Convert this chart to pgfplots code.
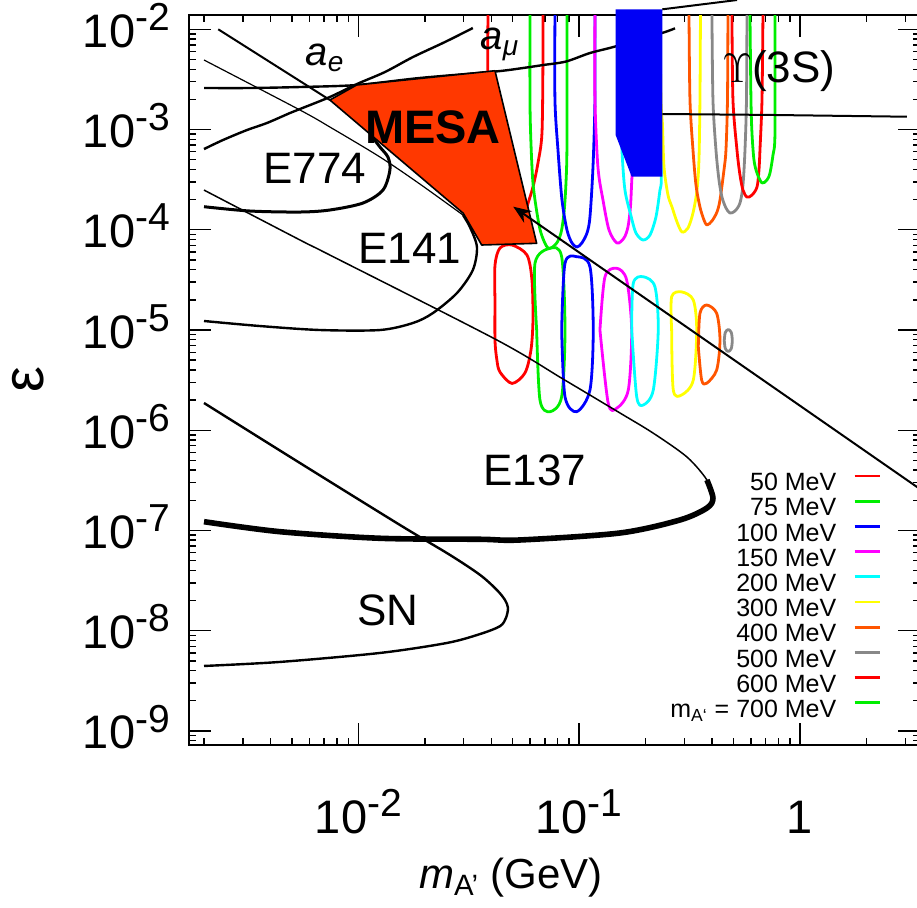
\documentclass[border=0pt]{standalone}
\usepackage{fontspec}
\setmainfont{Liberation Sans}
\usepackage{pgfplots}
\pgfplotsset{compat=1.18}
\usetikzlibrary{arrows.meta}
\definecolor{cred}{RGB}{255,0,0}
\definecolor{cgreen}{RGB}{0,238,0}
\definecolor{cblue}{RGB}{0,0,255}
\definecolor{cmag}{RGB}{255,0,255}
\definecolor{ccyan}{RGB}{0,255,255}
\definecolor{cyellow}{RGB}{255,255,0}
\definecolor{corange}{RGB}{255,85,0}
\definecolor{cgray}{RGB}{136,136,136}
\definecolor{mesa}{RGB}{255,56,0}
\definecolor{boxblue}{RGB}{0,0,245}
\newcommand{\tp}[1]{10\raisebox{0.36em}{\fontsize{19.5}{21}\selectfont -#1}}
\begin{document}
\begin{tikzpicture}
\path[use as bounding box] (0,0) rectangle (458.5pt,453.5pt);
\begin{axis}[
  at={(94.5pt,81pt)}, anchor=south west,
  scale only axis, width=365.5pt, height=365pt,
  xmode=log, ymode=log,
  xmin=1.71e-3, xmax=3.496, ymin=7.24e-10, ymax=1.389e-2,
  clip=false,
  axis line style={line width=1pt},
  tick style={black, line width=0.7pt},
  major tick length=11pt, minor tick length=3.5pt,
  xtick={0.01,0.1,1}, xticklabels={\tp{2},\tp{1},1},
  minor xtick={0.002,0.003,0.004,0.005,0.006,0.007,0.008,0.009,0.02,0.03,0.04,0.05,0.06,0.07,0.08,0.09,0.2,0.3,0.4,0.5,0.6,0.7,0.8,0.9,2,3},
  ytick={1e-9,1e-8,1e-7,1e-6,1e-5,1e-4,1e-3,1e-2},
  yticklabels={\tp{9},\tp{8},\tp{7},\tp{6},\tp{5},\tp{4},\tp{3},\tp{2}},
  minor ytick={8e-10,9e-10,2e-9,3e-9,4e-9,5e-9,6e-9,7e-9,8e-9,9e-9,2e-8,3e-8,4e-8,5e-8,6e-8,7e-8,8e-8,9e-8,2e-7,3e-7,4e-7,5e-7,6e-7,7e-7,8e-7,9e-7,2e-6,3e-6,4e-6,5e-6,6e-6,7e-6,8e-6,9e-6,2e-5,3e-5,4e-5,5e-5,6e-5,7e-5,8e-5,9e-5,2e-4,3e-4,4e-4,5e-4,6e-4,7e-4,8e-4,9e-4,2e-3,3e-3,4e-3,5e-3,6e-3,7e-3,8e-3,9e-3},
  tick label style={font=\fontsize{23.5}{26}\selectfont},
  yticklabel style={anchor=base east, yshift=-9pt, xshift=-6pt},
  xticklabel style={anchor=base, yshift=-44pt},
  xlabel={\textit{m}\textsubscript{A'} (GeV)},
  xlabel style={at={(axis description cs:0.4405,-0.197)}, anchor=base, font=\fontsize{21}{24}\selectfont},
  ylabel={ε},
  ylabel style={at={(axis description cs:-0.2195,0.5)}, anchor=center, font=\fontsize{29}{31}\selectfont},
  legend plot pos=right,
  legend image code/.code={\draw[#1, line width=1.4pt] (0pt,4.5pt) -- (12.5pt,4.5pt);},
  legend style={at={(axis description cs:0.9466,0.3735)}, anchor=north east,
    draw=none, fill=none, inner sep=0pt, outer sep=0pt,
    font=\fontsize{12.5}{14}\selectfont, cells={anchor=east},
    nodes={inner sep=0.4pt, text height=8.8pt, text depth=3pt},
    column sep=8pt},
  every axis plot/.append style={line join=round},
]
% ---------- upper contours ----------
\addplot[cred, line width=1.4pt, smooth] coordinates {(3.864e-2,1.389e-2) (3.864e-2,1.57e-3) (4.028e-2,1.98e-4) (4.613e-2,8.28e-5) (5.39e-2,8.87e-5) (5.802e-2,1.688e-4) (6.177e-2,2.67e-4) (6.508e-2,4.64e-4) (6.785e-2,9.24e-4) (6.855e-2,4.94e-3) (6.855e-2,1.389e-2)};
\addlegendentry{50 MeV}
\addplot[cgreen, line width=1.4pt, smooth] coordinates {(5.986e-2,1.389e-2) (5.986e-2,1.971e-3) (6.049e-2,7.34e-4) (6.177e-2,2.93e-4) (6.441e-2,1.47e-4) (6.714e-2,9.29e-5) (7.223e-2,6.58e-5) (7.85e-2,7.21e-5) (8.27e-2,9.29e-5) (8.535e-2,1.47e-4) (8.715e-2,2.93e-4) (8.806e-2,7.34e-4) (8.806e-2,1.389e-2)};
\addlegendentry{75 MeV}
\addplot[cblue, line width=1.4pt, smooth] coordinates {(7.77e-2,1.389e-2) (7.77e-2,1.971e-3) (8.017e-2,6.25e-4) (8.36e-2,1.98e-4) (8.806e-2,9.95e-5) (9.277e-2,7.38e-5) (9.772e-2,6.73e-5) (0.1028,7.38e-5) (0.1085,9.29e-5) (0.1119,1.341e-4) (0.1155,4.23e-4) (0.1179,1.971e-3) (0.1179,1.389e-2)};
\addlegendentry{100 MeV}
\addplot[cmag, line width=1.4pt, smooth] coordinates {(0.1179,1.389e-2) (0.1179,1.971e-3) (0.1216,4.23e-4) (0.1282,1.98e-4) (0.1365,9.95e-5) (0.1483,7.38e-5) (0.1596,8.28e-5) (0.1663,1.066e-4) (0.1707,1.688e-4) (0.1734,3.36e-4) (0.1808,1.971e-3) (0.1828,1.389e-2)};
\addlegendentry{150 MeV}
\addplot[ccyan, line width=1.4pt, smooth] coordinates {(0.153,1.389e-2) (0.153,1.971e-3) (0.1562,6.25e-4) (0.1612,2.49e-4) (0.1722,1.341e-4) (0.1808,9.29e-5) (0.1945,7.91e-5) (0.2093,8.87e-5) (0.2227,1.341e-4) (0.2322,2.49e-4) (0.2355,3.385e-4) (0.232,1.971e-3) (0.232,1.389e-2)};
\addlegendentry{200 MeV}
\addplot[cyellow, line width=1.4pt, smooth] coordinates {(0.2322,1.389e-2) (0.2347,1.971e-3) (0.2384,1.110e-3) (0.2422,4.23e-4) (0.2525,2.22e-4) (0.2633,1.688e-4) (0.2774,1.196e-4) (0.2922,9.50e-5) (0.311,1.041e-4) (0.3277,1.47e-4) (0.3417,2.49e-4) (0.3487,4.97e-4) (0.3524,1.971e-3) (0.3543,1.389e-2)};
\addlegendentry{300 MeV}
\addplot[corange, line width=1.4pt, smooth] coordinates {(0.3144,1.389e-2) (0.3176,1.971e-3) (0.3277,6.25e-4) (0.3381,2.80e-4) (0.3524,1.688e-4) (0.3675,1.252e-4) (0.379,1.116e-4) (0.3994,1.224e-4) (0.4208,1.504e-4) (0.4342,1.98e-4) (0.4527,3.95e-4) (0.4622,6.25e-4) (0.4695,1.971e-3) (0.4719,1.389e-2)};
\addlegendentry{400 MeV}
\addplot[cgray, line width=1.4pt, smooth] coordinates {(0.3994,1.389e-2) (0.4036,1.971e-3) (0.4164,6.25e-4) (0.4297,3.14e-4) (0.4433,2.12e-4) (0.4622,1.65e-4) (0.4819,1.47e-4) (0.5077,1.539e-4) (0.5349,1.849e-4) (0.5519,2.80e-4) (0.5636,6.25e-4) (0.5724,1.971e-3) (0.5754,1.389e-2)};
\addlegendentry{500 MeV}
\addplot[cred, line width=1.4pt, smooth] coordinates {(0.492,1.389e-2) (0.4972,1.971e-3) (0.5184,6.25e-4) (0.5349,3.52e-4) (0.5519,2.49e-4) (0.5754,2.12e-4) (0.6062,2.22e-4) (0.6388,2.67e-4) (0.6521,3.95e-4) (0.6589,6.25e-4) (0.6729,1.971e-3) (0.6799,1.389e-2)};
\addlegendentry{600 MeV}
\addplot[cgreen, line width=1.4pt, smooth] coordinates {(0.5937,1.389e-2) (0.5999,1.971e-3) (0.6062,9.24e-4) (0.619,4.97e-4) (0.6388,3.68e-4) (0.6729,2.93e-4) (0.7088,3.14e-4) (0.7313,3.68e-4) (0.7546,5.57e-4) (0.7706,9.24e-4) (0.7706,1.389e-2)};
\addlegendentry{m\textsubscript{A‘} = 700 MeV}
% ---------- lower loops ----------
\addplot[cred, line width=1.4pt, smooth, forget plot] coordinates {(4.157e-2,1.99e-5) (4.157e-2,7.95e-6) (4.24e-2,5.02e-6) (4.378e-2,3.81e-6) (4.963e-2,2.93e-6) (5.682e-2,3.73e-6) (6.049e-2,6.32e-6) (6.177e-2,1.259e-5) (6.112e-2,3.155e-5) (5.802e-2,5.60e-5) (4.963e-2,7.05e-5) (4.378e-2,6.58e-5) (4.157e-2,4.45e-5) (4.157e-2,1.99e-5)};
\addplot[cgreen, line width=1.4pt, smooth, forget plot] coordinates {(6.42e-2,1.0e-5) (6.645e-2,2.00e-6) (7.375e-2,1.531e-6) (8.33e-2,2.16e-6) (8.625e-2,1.0e-5) (8.33e-2,5.39e-5) (7.375e-2,6.54e-5) (6.307e-2,4.63e-5) (6.42e-2,1.0e-5)};
\addplot[cblue, line width=1.4pt, smooth, forget plot] coordinates {(8.33e-2,1.0e-5) (8.625e-2,2.16e-6) (9.74e-2,1.531e-6) (0.1119,2.52e-6) (0.1158,1.0e-5) (0.1119,4.28e-5) (9.74e-2,5.39e-5) (8.625e-2,4.63e-5) (8.33e-2,1.0e-5)};
\addplot[cmag, line width=1.4pt, smooth, forget plot] coordinates {(0.1242,1.0e-5) (0.1354,1.858e-6) (0.1478,1.656e-6) (0.1669,2.52e-6) (0.1729,1.0e-5) (0.1641,3.155e-5) (0.1478,4.13e-5) (0.1309,3.40e-5) (0.1242,1.0e-5)};
\addplot[ccyan, line width=1.4pt, smooth, forget plot] coordinates {(0.1729,1.0e-5) (0.1822,2.16e-6) (0.1951,1.786e-6) (0.2166,2.52e-6) (0.2281,1.0e-5) (0.2204,2.70e-5) (0.1951,3.40e-5) (0.1758,2.92e-5) (0.1729,1.0e-5)};
\addplot[cyellow, line width=1.4pt, smooth, forget plot] coordinates {(0.2623,1.0e-5) (0.2668,2.52e-6) (0.2912,2.25e-6) (0.3288,3.17e-6) (0.3407,1.0e-5) (0.3288,1.99e-5) (0.2912,2.40e-5) (0.2623,2.15e-5) (0.2623,1.0e-5)};
\addplot[corange, line width=1.4pt, smooth, forget plot] coordinates {(0.3464,6.82e-6) (0.3587,3.17e-6) (0.3779,2.94e-6) (0.4195,3.99e-6) (0.4342,7.95e-6) (0.4195,1.468e-5) (0.3779,1.776e-5) (0.3524,1.468e-5) (0.3464,6.82e-6)};
\addplot[cgray, line width=1.4pt, smooth, forget plot] coordinates {(0.4541,7.86e-6) (0.4589,6.54e-6) (0.4735,6.10e-6) (0.4885,6.54e-6) (0.4936,7.86e-6) (0.4885,9.45e-6) (0.4735,1.012e-5) (0.4589,9.45e-6) (0.4541,7.86e-6)};
% ---------- black curves ----------
% SN
\addplot[black, line width=1.2pt, smooth, forget plot] coordinates {(2e-3,1.87e-6) (5.44e-3,4.71e-7) (1.543e-2,1.135e-7) (2.60e-2,5.70e-8) (3.56e-2,3.60e-8) (4.24e-2,2.55e-8) (4.61e-2,2.03e-8) (4.76e-2,1.69e-8) (4.66e-2,1.34e-8) (4.38e-2,1.11e-8) (3.56e-2,9.27e-9) (2.52e-2,7.55e-9) (1.253e-2,6.00e-9) (4.41e-3,4.88e-9) (2e-3,4.45e-9)};
% E137 upper (thin)
\addplot[black, line width=0.75pt, smooth, forget plot] coordinates {(2e-3,2.49e-4) (5.44e-3,7.91e-5) (7.43e-3,5.60e-5) (4.24e-2,7.95e-6) (8.44e-2,3.25e-6) (0.153,1.487e-6) (0.2159,9.39e-7) (0.3077,5.41e-7) (0.379,3.19e-7) (0.4036,2.11e-7)};
% E137 lower (thick)
\addplot[black, line width=2.8pt, smooth, forget plot] coordinates {(0.379,3.19e-7) (0.4036,2.11e-7) (0.379,1.677e-7) (0.286,1.273e-7) (0.153,9.44e-8) (5.39e-2,8.04e-8) (3.56e-2,8.17e-8) (1.253e-2,8.36e-8) (4.41e-3,9.73e-8) (2e-3,1.224e-7)};
% E774
\addplot[black, line width=1.5pt, smooth, forget plot] coordinates {(2e-3,1.699e-4) (3.23e-3,1.539e-4) (5.44e-3,1.504e-4) (7.43e-3,1.575e-4) (1.049e-2,1.849e-4) (1.292e-2,2.49e-4) (1.390e-2,3.95e-4) (1.361e-2,5.32e-4) (1.253e-2,6.69e-4) (1.128e-2,9.24e-4) (1.08e-2,1.3e-3)};
% line C (thin) and E141
\addplot[black, line width=0.6pt, smooth, forget plot] coordinates {(2e-3,4.94e-3) (5.44e-3,1.566e-3) (7.43e-3,1.060e-3) (1.253e-2,5.32e-4) (1.90e-2,2.86e-4) (2.977e-2,1.404e-4)};
\addplot[black, line width=1.2pt, smooth, forget plot] coordinates {(2.977e-2,1.404e-4) (3.20e-2,1.066e-4) (3.444e-2,6.73e-5) (3.30e-2,3.97e-5) (2.797e-2,2.34e-5) (2.177e-2,1.478e-5) (1.767e-2,1.175e-5) (1.253e-2,1.0e-5) (6.70e-3,1.0e-5) (3.58e-3,1.096e-5) (2e-3,1.230e-5)};
% line A
\addplot[black, line width=1pt, forget plot] coordinates {(2.32e-3,1.0e-2) (7.43e-3,1.971e-3)};
% a_e
\addplot[black, line width=1.2pt, smooth, forget plot] coordinates {(2e-3,6.39e-4) (2.436e-3,7.86e-4) (3.13e-3,9.89e-4) (3.855e-3,1.162e-3) (4.90e-3,1.462e-3) (5.44e-3,1.603e-3) (7.43e-3,2.112e-3) (9.86e-3,2.847e-3) (1.320e-2,3.75e-3) (1.767e-2,5.29e-3) (2.467e-2,7.47e-3) (3.30e-2,1.03e-2)};
% a_mu
\addplot[black, line width=1.2pt, smooth, forget plot] coordinates {(2e-3,2.597e-3) (3.23e-3,2.597e-3) (5.44e-3,2.657e-3) (9.86e-3,2.782e-3) (1.90e-2,3.27e-3) (4.157e-2,3.79e-3) (5.566e-2,4.11e-3) (6.855e-2,4.40e-3) (8.71e-2,4.77e-3) (0.1119,5.80e-3) (0.1453,6.73e-3) (0.2371,9.19e-3) (0.2716,1.023e-2)};
% MESA
\addplot[fill=mesa, draw=black, line width=0.8pt, forget plot] coordinates {(7.43e-3,1.971e-3) (9.82e-3,2.782e-3) (4.157e-2,3.86e-3) (6.42e-2,7.33e-5) (3.618e-2,7.05e-5) (2.987e-2,1.460e-4)} -- cycle;
% blue box
\addplot[fill=boxblue, draw=none, forget plot] coordinates {(0.1463,1.583e-2) (0.2379,1.583e-2) (0.2379,3.385e-4) (0.1729,3.385e-4) (0.1463,8.82e-4)} -- cycle;
\addplot[black, line width=1pt, forget plot] coordinates {(0.2379,1.583e-2) (0.5184,1.96e-2)};
% Upsilon(3S)
\addplot[black, line width=1pt, forget plot] coordinates {(0.2379,1.429e-3) (0.7088,1.40e-3) (3.05,1.343e-3)};
% arrow
\addplot[black, line width=1pt, -{Stealth[length=9pt,width=7pt]}, forget plot] coordinates {(3.496,2.59e-7) (5.03e-2,1.70e-4)};
% labels
\node[font=\fontsize{23.5}{28}\selectfont\bfseries] at (axis cs:2.177e-2,1.06e-3) {MESA};
\node[font=\fontsize{22}{26}\selectfont] at (axis cs:6.36e-3,4.13e-4) {E774};
\node[font=\fontsize{22}{26}\selectfont] at (axis cs:1.713e-2,6.58e-5) {E141};
\node[font=\fontsize{22}{26}\selectfont] at (axis cs:6.307e-2,4.01e-7) {E137};
\node[font=\fontsize{22}{26}\selectfont] at (axis cs:1.361e-2,1.61e-8) {SN};
\node[font=\fontsize{22}{26}\selectfont] at (axis cs:0.8033,3.84e-3) {$\Upsilon$(3S)};
\node[font=\fontsize{20}{24}\selectfont\itshape] at (axis cs:7.06e-3,5.17e-3) {a\textsubscript{e}};
\node[font=\fontsize{20}{24}\selectfont\itshape] at (axis cs:4.378e-2,7.13e-3) {a\textsubscript{μ}};
\end{axis}
\end{tikzpicture}
\end{document}
